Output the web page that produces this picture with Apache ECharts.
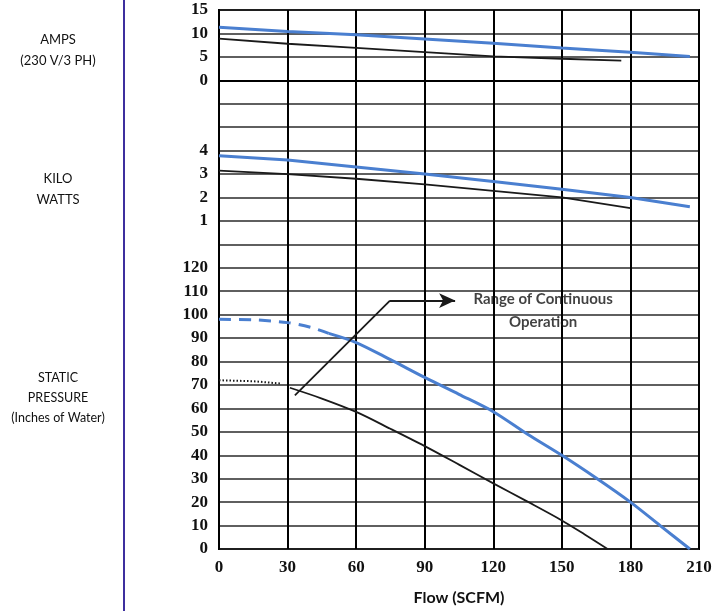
<!DOCTYPE html>
<html>
<head>
<meta charset="utf-8">
<script src="https://cdn.jsdelivr.net/npm/echarts@6/dist/echarts.min.js"></script>
<style>
html,body{margin:0;padding:0;background:#fff;}
#chart{width:721px;height:611px;}
</style>
</head>
<body>
<div id="chart"></div>
<script>
// Flow (SCFM) axis
const flowTicks = [0, 30, 60, 90, 120, 150, 180, 210];

// AMPS (230 V/3 PH)
const ampsBlue  = [[0,11.3],[30,10.4],[60,9.7],[90,8.8],[120,7.9],[150,6.9],[180,6.0],[206,5.1]];
const ampsBlack = [[0,8.9],[30,7.8],[60,6.9],[90,6.0],[120,5.1],[150,4.6],[176,4.2]];

// KILO WATTS
const kwBlue  = [[0,3.78],[30,3.6],[60,3.3],[90,3.0],[120,2.68],[150,2.35],[180,2.0],[206,1.6]];
const kwBlack = [[0,3.15],[30,3.0],[60,2.8],[90,2.56],[120,2.28],[150,2.0],[180,1.55]];

// STATIC PRESSURE (Inches of Water)
const pressBlueDashed = [[0,98],[15,97.8],[30,96.6],[40,94.6],[48,92]];
const pressBlue  = [[48,92],[60,88.1],[75,80.8],[90,73.2],[105,66],[120,58.6],[135,49],[150,40],[165,30.3],[180,20],[193,10],[206,0]];
const pressBlackDotted = [[0,72],[15,71.6],[27,70.6]];
const pressBlack = [[31,68.8],[45,64.2],[60,58.5],[75,51.3],[90,43.9],[105,36],[120,28],[135,20.2],[150,12.2],[160,6.2],[170,0]];

// Annotation "Range of Continuous Operation"
const leaderLine = [[33.2,65.6],[74.8,106]];
const arrowSegment = [[74.8,106],[103.3,106]];
const noteText = 'Range of Continuous\nOperation';
const notePos = [141.8, 101.5];

// Tick labels shown per panel
const ampsLabels = [0, 5, 10, 15];
const kwLabels = [1, 2, 3, 4];
const pressLabels = [0,10,20,30,40,50,60,70,80,90,100,110,120];

const BLUE = '#4a7fd0';
const BLACK = '#1a1a1a';
const labelFont = {fontFamily:'"Liberation Serif", "DejaVu Serif", serif', fontWeight:'bold', fontSize:17, color:'#111'};

const chart = echarts.init(document.getElementById('chart'), null, {renderer:'canvas'});

function yAx(min, max, interval, shown, showSplit, showLine) {
  return {
    type:'value', min:min, max:max, interval:interval, position:'left',
    axisLine:{show:showLine, lineStyle:{color:'#000', width:2}},
    axisTick:{show:false},
    splitLine:{show:showSplit, lineStyle:{color:'#2a2a2a', width:1.5}},
    axisLabel:Object.assign({margin:11, formatter:function(v){return shown.indexOf(v) >= 0 ? String(v) : '';}}, labelFont)
  };
}

chart.setOption({
  animation:false,
  backgroundColor:'#fff',
  grid:{left:219, right:22, top:10, bottom:59, show:true, borderColor:'#000', borderWidth:2, backgroundColor:'transparent'},
  xAxis:{
    type:'value', min:0, max:210, interval:30,
    name:'Flow (SCFM)', nameLocation:'middle', nameGap:41,
    nameTextStyle:{fontFamily:'Lato, "Open Sans", sans-serif', fontSize:16, fontWeight:'bold', color:'#111'},
    axisLine:{show:true, lineStyle:{color:'#000', width:2}},
    axisTick:{show:false},
    splitLine:{show:true, lineStyle:{color:'#000', width:2}},
    axisLabel:Object.assign({margin:10, formatter:function(v){return flowTicks.indexOf(v) >= 0 ? String(v) : '';}}, labelFont)
  },
  yAxis:[
    yAx(-100, 15, 5, ampsLabels, false, false),
    yAx(-13, 10, 1, kwLabels, false, false),
    yAx(0, 230, 10, pressLabels, true, true)
  ],
  graphic:[
    {type:'line', shape:{x1:124, y1:0, x2:124, y2:611}, style:{stroke:'#3d2f9e', lineWidth:2}},
    {type:'text', x:58, y:50, style:{text:'AMPS\n(230 V/3 PH)', textAlign:'center', textVerticalAlign:'middle', font:'13px Lato, sans-serif', fill:'#111', lineHeight:21}},
    {type:'text', x:58, y:189, style:{text:'KILO\nWATTS', textAlign:'center', textVerticalAlign:'middle', font:'13px Lato, sans-serif', fill:'#111', lineHeight:21}},
    {type:'text', x:58, y:398, style:{text:'STATIC\nPRESSURE\n(Inches of Water)', textAlign:'center', textVerticalAlign:'middle', font:'12.5px Lato, sans-serif', fill:'#111', lineHeight:20}}
  ],
  series:[
    {type:'line', yAxisIndex:0, data:ampsBlue, symbol:'none', lineStyle:{color:BLUE, width:3}},
    {type:'line', yAxisIndex:0, data:ampsBlack, symbol:'none', lineStyle:{color:BLACK, width:1.8}},
    {type:'line', yAxisIndex:1, data:kwBlue, symbol:'none', lineStyle:{color:BLUE, width:3}},
    {type:'line', yAxisIndex:1, data:kwBlack, symbol:'none', lineStyle:{color:BLACK, width:1.8}},
    {type:'line', yAxisIndex:2, data:pressBlueDashed, symbol:'none', smooth:0.3, lineStyle:{color:BLUE, width:3, type:[12,8]}},
    {type:'line', yAxisIndex:2, data:pressBlue, symbol:'none', smooth:0.3, lineStyle:{color:BLUE, width:3}},
    {type:'line', yAxisIndex:2, data:pressBlackDotted, symbol:'none', lineStyle:{color:BLACK, width:2, type:[1.5,2]}},
    {type:'line', yAxisIndex:2, data:pressBlack, symbol:'none', smooth:0.3, lineStyle:{color:BLACK, width:1.8}},
    {type:'line', yAxisIndex:2, data:leaderLine, symbol:'none', lineStyle:{color:BLACK, width:1.8},
      markLine:{silent:true, symbol:['none','arrow'], symbolSize:[11,16], label:{show:false},
        lineStyle:{color:BLACK, width:1.8, type:'solid'},
        data:[[{coord:arrowSegment[0]},{coord:arrowSegment[1]}]]}},
    {type:'scatter', yAxisIndex:2, data:[notePos], symbolSize:0,
      label:{show:true, position:'inside', formatter:noteText, align:'center', verticalAlign:'middle',
        fontFamily:'Lato, "Open Sans", sans-serif', fontWeight:'bold', fontSize:15, lineHeight:23, color:'#111'}}
  ]
});
</script>
</body>
</html>
